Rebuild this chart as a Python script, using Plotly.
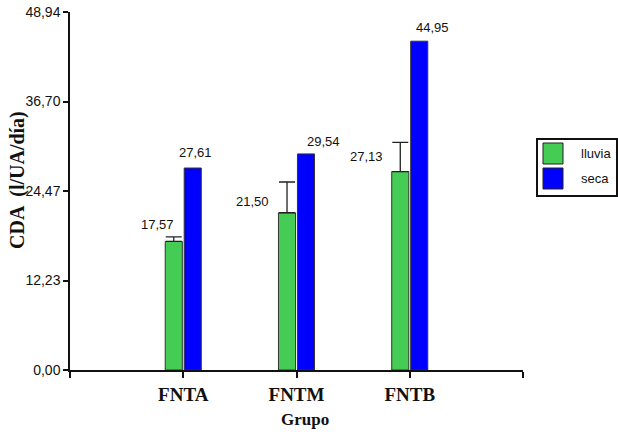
import plotly.graph_objects as go

# Data
grupos = ["FNTA", "FNTM", "FNTB"]
lluvia = [17.57, 21.50, 27.13]
lluvia_err = [0.62, 4.20, 4.00]
seca = [27.61, 29.54, 44.95]
y_ticks = [0.00, 12.23, 24.47, 36.70, 48.94]
y_tick_text = ["0,00", "12,23", "24,47", "36,70", "48,94"]

GREEN = "#44CC55"
BLUE = "#0000FF"
SANS = "Arial, Liberation Sans, sans-serif"
SERIF = "Times New Roman, Liberation Serif, serif"

W, H = 618, 432
L, R, T, B = 70, 95, 12, 62
pw, ph = W - L - R, H - T - B


def fmt(v):
    return f"{v:.2f}".replace(".", ",")


xs = list(range(len(grupos)))

fig = go.Figure()
fig.add_trace(go.Bar(
    x=xs, y=lluvia, name="lluvia",
    marker=dict(color=GREEN, line=dict(color="#333333", width=1)),
    error_y=dict(type="data", symmetric=False, array=lluvia_err,
                 arrayminus=[0] * len(lluvia_err),
                 color="#222222", thickness=1.3, width=8),
))
fig.add_trace(go.Bar(
    x=xs, y=seca, name="seca",
    marker=dict(color=BLUE, line=dict(color="#333333", width=1)),
))

# value labels above the bars (pixel offsets relative to each bar top)
lluvia_off = [(-26, 17), (-44, 11), (-43, 15)]
seca_off = [(12, 16), (27, 12), (23, 14)]
for i, v in enumerate(lluvia):
    fig.add_annotation(x=xs[i], y=v, text=fmt(v), showarrow=False,
                       xanchor="center", yanchor="middle",
                       xshift=lluvia_off[i][0], yshift=lluvia_off[i][1],
                       font=dict(family=SANS, size=13, color="#111"))
for i, v in enumerate(seca):
    fig.add_annotation(x=xs[i], y=v, text=fmt(v), showarrow=False,
                       xanchor="center", yanchor="middle",
                       xshift=seca_off[i][0], yshift=seca_off[i][1],
                       font=dict(family=SANS, size=13, color="#111"))


def px(xp):
    return (xp - L) / pw


def py(yp):
    return (H - B - yp) / ph


# axis titles
fig.add_annotation(xref="paper", yref="paper", x=px(18), y=py(180),
                   xanchor="center", yanchor="middle",
                   text="<b>CDA  (l/UA/día)</b>", textangle=-90, showarrow=False,
                   font=dict(family=SERIF, size=20, color="#111"))
fig.add_annotation(xref="paper", yref="paper", x=px(305), y=py(420),
                   xanchor="center", yanchor="middle",
                   text="<b>Grupo</b>", showarrow=False,
                   font=dict(family=SERIF, size=17, color="#111"))

# legend box
fig.add_shape(type="rect", xref="paper", yref="paper",
              x0=px(537), x1=px(617), y0=py(196), y1=py(139),
              line=dict(color="#111", width=2), fillcolor="white")
for label, color, top in [("lluvia", GREEN, 143), ("seca", BLUE, 168)]:
    fig.add_shape(type="rect", xref="paper", yref="paper",
                  x0=px(543), x1=px(563), y0=py(top + 21), y1=py(top),
                  line=dict(color="#222", width=1), fillcolor=color)
    fig.add_annotation(xref="paper", yref="paper", x=px(579), y=py(top + 10.5),
                       xanchor="left", yanchor="middle", text=label,
                       showarrow=False,
                       font=dict(family=SANS, size=13, color="#111"))

fig.update_layout(
    width=W, height=H,
    margin=dict(l=L, r=R, t=T, b=B, autoexpand=False),
    paper_bgcolor="white", plot_bgcolor="white",
    barmode="group", bargap=0.665, bargroupgap=0.1,
    showlegend=False,
    xaxis=dict(range=[-1, 3], tickvals=[-1] + xs + [3],
               ticktext=[""] + [f"<b>{g}</b>" for g in grupos] + [""],
               showgrid=False, zeroline=False, showline=True,
               linecolor="#111", linewidth=1.5,
               ticks="outside", ticklen=6, tickcolor="#111", tickwidth=1.5,
               ticklabelstandoff=0,
               tickfont=dict(family=SERIF, size=19, color="#111")),
    yaxis=dict(range=[0, 48.94], tickvals=y_ticks, ticktext=y_tick_text,
               showgrid=False, zeroline=False, showline=True,
               linecolor="#111", linewidth=1.5,
               ticks="outside", ticklen=5, tickcolor="#111", tickwidth=1.5,
               tickfont=dict(family=SANS, size=14, color="#111")),
)

fig.write_html("out.html")
